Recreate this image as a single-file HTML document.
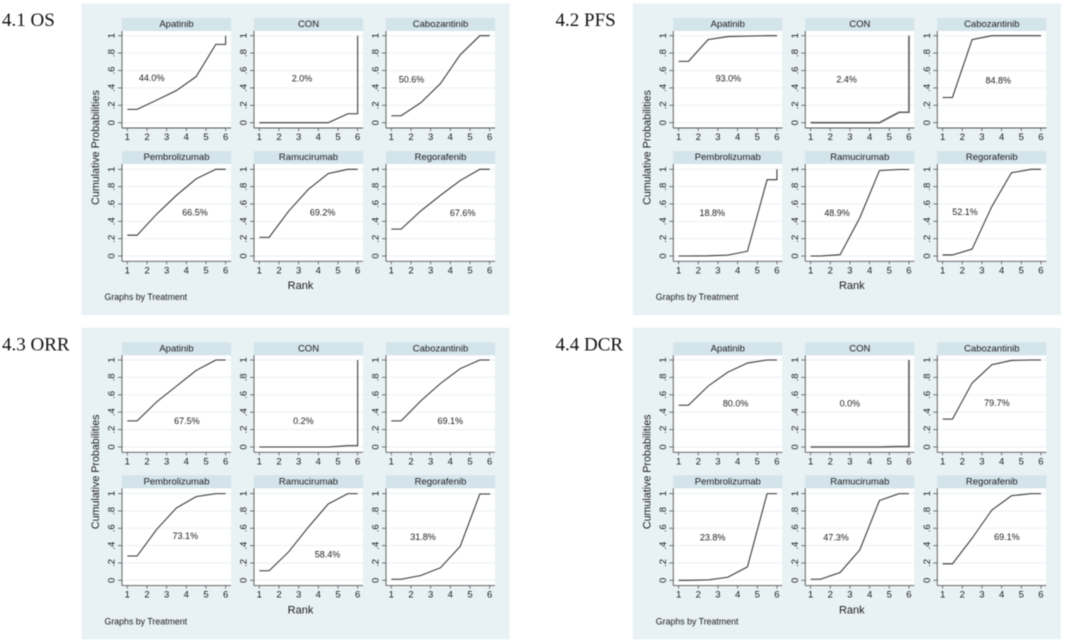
<!DOCTYPE html>
<html lang="en">
<head>
<meta charset="utf-8">
<title>Cumulative rank probabilities</title>
<style>
html,body{margin:0;padding:0;background:#fff;width:1065px;height:641px;overflow:hidden}
svg{display:block;filter:blur(0.4px)}
text{font-family:"Liberation Sans",sans-serif;fill:#1c1c1c}
.ttl{font-family:"Liberation Serif",serif;font-size:19px;fill:#111}
</style>
</head>
<body>
<svg id="chart" xmlns="http://www.w3.org/2000/svg" width="1065" height="641" viewBox="0 0 1065 641"></svg>
<script>
const treatments = ['Apatinib', 'CON', 'Cabozantinib', 'Pembrolizumab', 'Ramucirumab', 'Regorafenib'];
const rankTicks = [1, 2, 3, 4, 5, 6];
const probTicks = [0, 0.2, 0.4, 0.6, 0.8, 1];
const probTickLabels = ['0', '.2', '.4', '.6', '.8', '1'];
const endpointTitles = ['4.1 OS', '4.2 PFS', '4.3 ORR', '4.4 DCR'];

/* Cumulative probability at ranks 1..6 */
const osApatinib = [0.153, 0.26, 0.37, 0.53, 0.90, 1];
const osCon = [0, 0, 0, 0, 0.103, 1];
const osCabozantinib = [0.08, 0.23, 0.45, 0.78, 1, 1];
const osPembrolizumab = [0.24, 0.485, 0.70, 0.89, 1, 1];
const osRamucirumab = [0.215, 0.52, 0.77, 0.95, 1, 1];
const osRegorafenib = [0.31, 0.52, 0.70, 0.87, 1, 1];

const pfsApatinib = [0.705, 0.955, 0.99, 0.995, 1, 1];
const pfsCon = [0, 0, 0, 0, 0.12, 1];
const pfsCabozantinib = [0.29, 0.955, 1, 1, 1, 1];
const pfsPembrolizumab = [0, 0.002, 0.01, 0.055, 0.88, 1];
const pfsRamucirumab = [0, 0.015, 0.44, 0.985, 0.998, 1];
const pfsRegorafenib = [0.012, 0.08, 0.57, 0.96, 1, 1];

const orrApatinib = [0.30, 0.52, 0.70, 0.88, 1, 1];
const orrCon = [0, 0, 0, 0, 0.015, 1];
const orrCabozantinib = [0.30, 0.53, 0.73, 0.90, 1, 1];
const orrPembrolizumab = [0.28, 0.59, 0.835, 0.965, 1, 1];
const orrRamucirumab = [0.11, 0.33, 0.615, 0.88, 1, 1];
const orrRegorafenib = [0.012, 0.055, 0.145, 0.39, 0.995, 1];

const dcrApatinib = [0.48, 0.70, 0.86, 0.965, 1, 1];
const dcrCon = [0, 0, 0, 0, 0.005, 1];
const dcrCabozantinib = [0.32, 0.735, 0.945, 0.995, 1, 1];
const dcrPembrolizumab = [0, 0.005, 0.035, 0.155, 1, 1];
const dcrRamucirumab = [0.012, 0.09, 0.35, 0.92, 1, 1];
const dcrRegorafenib = [0.19, 0.485, 0.81, 0.975, 1, 1];

/* SUCRA annotations: printed value, and where it sits in rank / probability units */
const osSucra = ['44.0%', '2.0%', '50.6%', '66.5%', '69.2%', '67.6%'];
const osSucraRank = [2.24, 3.17, 2.03, 4.44, 4.22, 4.63];
const osSucraProb = [0.517, 0.51, 0.50, 0.504, 0.504, 0.50];
const pfsSucra = ['93.0%', '2.4%', '84.8%', '18.8%', '48.9%', '52.1%'];
const pfsSucraRank = [3.53, 2.83, 3.83, 2.71, 2.34, 2.14];
const pfsSucraProb = [0.513, 0.498, 0.487, 0.50, 0.498, 0.51];
const orrSucra = ['67.5%', '0.2%', '69.1%', '73.1%', '58.4%', '31.8%'];
const orrSucraRank = [4.03, 3.24, 4.0, 3.95, 4.47, 2.61];
const orrSucraProb = [0.30, 0.30, 0.30, 0.515, 0.30, 0.50];
const dcrSucra = ['80.0%', '0.0%', '79.7%', '23.8%', '47.3%', '69.1%'];
const dcrSucraRank = [3.9, 3.0, 3.76, 2.73, 2.29, 4.27];
const dcrSucraProb = [0.50, 0.50, 0.506, 0.495, 0.495, 0.50];

const osSeries = [osApatinib, osCon, osCabozantinib, osPembrolizumab, osRamucirumab, osRegorafenib];
const pfsSeries = [pfsApatinib, pfsCon, pfsCabozantinib, pfsPembrolizumab, pfsRamucirumab, pfsRegorafenib];
const orrSeries = [orrApatinib, orrCon, orrCabozantinib, orrPembrolizumab, orrRamucirumab, orrRegorafenib];
const dcrSeries = [dcrApatinib, dcrCon, dcrCabozantinib, dcrPembrolizumab, dcrRamucirumab, dcrRegorafenib];
const endpointSeries = [osSeries, pfsSeries, orrSeries, dcrSeries];
const endpointSucra = [osSucra, pfsSucra, orrSucra, dcrSucra];
const endpointSucraRank = [osSucraRank, pfsSucraRank, orrSucraRank, dcrSucraRank];
const endpointSucraProb = [osSucraProb, pfsSucraProb, orrSucraProb, dcrSucraProb];

const NS = 'http://www.w3.org/2000/svg';
const root = document.getElementById('chart');

function make(tag, parent, attrs) {
  const el = document.createElementNS(NS, tag);
  for (const k in attrs) el.setAttribute(k, attrs[k]);
  parent.appendChild(el);
  return el;
}

function drawSubplot(parent, left, top, row, treatmentIndex, endpointIndex) {
  const headTop = top + (row === 0 ? 15 : 148);
  const y1Px = top + (row === 0 ? 32.7 : 166.3);
  const y0Px = top + (row === 0 ? 119.7 : 253);
  const axisY = top + (row === 0 ? 125 : 258.3);
  const W = 109;
  const xScale = r => left + 5.3 + (r - 1) * 19.67;
  const yScale = p => y0Px + (y1Px - y0Px) * p;

  const g = make('g', parent, {});
  
  

  const plot = make('rect', g, { x: left, y: headTop + 13, width: W, height: axisY - headTop - 13, fill: '#ffffff' });
  
  

  const head = make('rect', g, { x: left, y: headTop, width: W, height: 13, fill: '#d3e4eb' });
  
  

  const headText = make('text', g, { x: left + W / 2, y: headTop + 9.2, 'text-anchor': 'middle', 'font-size': 9.5 });
  headText.textContent = treatments[treatmentIndex];
  
  

  probTicks.forEach((p, i) => {
    const py = yScale(p);
    const grid = make('line', g, { x1: left, x2: left + W, y1: py, y2: py, stroke: '#e9f1f3', 'stroke-width': 1 });
    
    
    const tick = make('line', g, { x1: left - 4, x2: left, y1: py, y2: py, stroke: '#555', 'stroke-width': 0.8 });
    
    
    const lx = left - 7.5;
    const label = make('text', g, { x: lx, y: py, 'text-anchor': 'middle', 'font-size': 9.5, transform: 'rotate(-90 ' + lx + ' ' + py + ')' });
    label.textContent = probTickLabels[i];
    
    
  });

  rankTicks.forEach(r => {
    const px = xScale(r);
    const tick = make('line', g, { x1: px, x2: px, y1: axisY, y2: axisY + 3, stroke: '#555', 'stroke-width': 0.8 });
    
    
    const label = make('text', g, { x: px, y: axisY + 12, 'text-anchor': 'middle', 'font-size': 9.5 });
    label.textContent = String(r);
    
    
  });

  const yAxis = make('line', g, { x1: left, x2: left, y1: headTop + 13, y2: axisY, stroke: '#555', 'stroke-width': 0.9 });
  
  
  const xAxis = make('line', g, { x1: left, x2: left + W, y1: axisY, y2: axisY, stroke: '#555', 'stroke-width': 0.9 });
  
  

  const v = endpointSeries[endpointIndex][treatmentIndex];
  const pts = [[1, v[0]], [1.5, v[0]], [2.5, v[1]], [3.5, v[2]], [4.5, v[3]], [5.5, v[4]], [6, v[4]], [6, v[5]]];
  const d = pts.map((q, i) => (i ? 'L' : 'M') + xScale(q[0]).toFixed(2) + ' ' + yScale(q[1]).toFixed(2)).join(' ');
  /* the control-arm curves in the PFS and DCR panels are heavier and greyer in the source */
  const heavy = treatmentIndex === 1 && (endpointIndex === 1 || endpointIndex === 3);
  const curve = make('path', g, { d: d, fill: 'none', stroke: heavy ? '#5a5a5a' : '#333', 'stroke-width': heavy ? 1.6 : 1.05, 'stroke-linejoin': 'miter' });
  
  

  const note = make('text', g, {
    x: xScale(endpointSucraRank[endpointIndex][treatmentIndex]),
    y: yScale(endpointSucraProb[endpointIndex][treatmentIndex]) + 3.2,
    'text-anchor': 'middle', 'font-size': 9
  });
  note.textContent = endpointSucra[endpointIndex][treatmentIndex];
  
  
}

function drawPanel(endpointIndex, dx, dy) {
  const g = make('g', root, {});
  
  

  const bg = make('rect', g, { x: 81.5 + dx, y: 3.5 + dy, width: 428, height: 311.5, fill: '#e8f1f4' });
  
  

  const title = make('text', g, { x: 2 + (dx ? 553.5 : 0), y: 26 + dy, class: 'ttl' });
  title.textContent = endpointTitles[endpointIndex];
  
  

  for (let t = 0; t < treatments.length; t++) {
    const col = t % 3;
    const row = Math.floor(t / 3);
    drawSubplot(g, 122 + col * 132 + dx, 3 + dy, row, t, endpointIndex);
  }

  const yTitleX = 96.2 + dx, yTitleY = 147.5 + dy;
  const yTitle = make('text', g, { x: yTitleX, y: yTitleY, 'text-anchor': 'middle', 'font-size': 10.7, transform: 'rotate(-90 ' + yTitleX + ' ' + yTitleY + ')', 'dominant-baseline': 'middle' });
  yTitle.textContent = 'Cumulative Probabilities';
  
  

  const xTitle = make('text', g, { x: 300.5 + dx, y: 289 + dy, 'text-anchor': 'middle', 'font-size': 11 });
  xTitle.textContent = 'Rank';
  
  

  const byNote = make('text', g, { x: 104.5 + dx, y: 300 + dy, 'font-size': 8.8 });
  byNote.textContent = 'Graphs by Treatment';
  
  
}

drawPanel(0, 0, 0);
drawPanel(1, 551.3, 0);
drawPanel(2, 0, 324.3);
drawPanel(3, 551.3, 324.3);
</script>
</body>
</html>
